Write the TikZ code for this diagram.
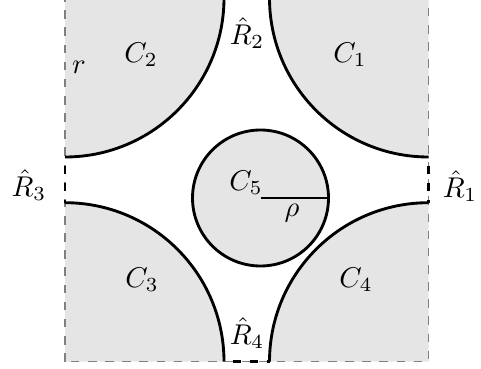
\documentclass[tikz,border=0pt]{standalone}
\begin{document}
\begin{tikzpicture}[x=0.35pt,y=0.35pt,
  disc/.style={fill=gray!20},
  rim/.style={line width=1pt},
  border/.style={gray,dashed,line width=0.4pt},
  gapline/.style={line width=1pt,dash pattern=on 3pt off 3pt,dash phase=3pt},
  lbl/.style={inner sep=0pt}]
\useasboundingbox (0,0) rectangle (481,368);
% corners
\coordinate (TL) at (65,370);
\coordinate (TR) at (428.5,370);
\coordinate (BL) at (65,6.3);
\coordinate (BR) at (428.5,6.3);
% arc end points
\coordinate (t1) at (224,370);
\coordinate (t2) at (269.5,370);
\coordinate (b1) at (224,6.3);
\coordinate (b2) at (269.5,6.3);
\coordinate (l1) at (65,211);
\coordinate (l2) at (65,165.3);
\coordinate (r1) at (428.5,211);
\coordinate (r2) at (428.5,165.3);
% gray quarter discs
\fill[disc] (TL) -- (t1) arc[start angle=0,end angle=-90,radius=159] -- cycle;
\fill[disc] (TR) -- (t2) arc[start angle=180,end angle=270,radius=159] -- cycle;
\fill[disc] (BL) -- (b1) arc[start angle=0,end angle=90,radius=159] -- cycle;
\fill[disc] (BR) -- (b2) arc[start angle=180,end angle=90,radius=159] -- cycle;
% border
\draw[border] (BL) rectangle (TR);
% arcs
\draw[rim] (t1) arc[start angle=0,end angle=-90,radius=159];
\draw[rim] (t2) arc[start angle=180,end angle=270,radius=159];
\draw[rim] (b1) arc[start angle=0,end angle=90,radius=159];
\draw[rim] (b2) arc[start angle=180,end angle=90,radius=159];
% thick dashed gaps
\draw[gapline] (l1) -- (l2);
\draw[gapline] (r1) -- (r2);
\draw[gapline] (t1) -- (t2);
\draw[gapline] (b1) -- (b2);
% central circle
\node[circle,draw,rim,disc,minimum size=47.6pt,inner sep=0pt,outer sep=0pt] (c5) at (260.5,170) {};
\draw[line width=0.6pt] (c5.center) -- (c5.east);
% labels
\node[lbl] (lC5) at (246,185) {$C_5$};
\node[lbl] (lrho) at (292,155) {$\rho$};
\node[lbl] (lC1) at (350,313) {$C_1$};
\node[lbl] (lC2) at (141,313) {$C_2$};
\node[lbl] (lC3) at (142,88) {$C_3$};
\node[lbl] (lC4) at (356,88) {$C_4$};
\node[lbl] (lr) at (79,301) {$r$};
\node[lbl] (R1) at (460,182) {$\hat{R}_1$};
\node[lbl] (R2) at (247,335) {$\hat{R}_2$};
\node[lbl] (R3) at (29,183) {$\hat{R}_3$};
\node[lbl] (R4) at (247,35) {$\hat{R}_4$};
\end{tikzpicture}
\end{document}
